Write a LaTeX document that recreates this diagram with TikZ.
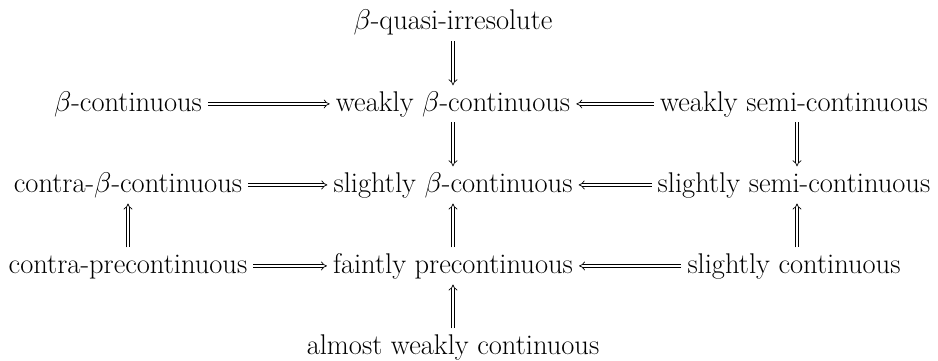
\RequirePackage{fix-cm}
\documentclass[tikz,border=0pt]{standalone}
\usetikzlibrary{arrows.meta}
\tikzset{
  lbl/.style={anchor=base, font=\fontsize{28.5}{32}\selectfont, text height=20pt, text depth=5.8pt, inner xsep=6pt, inner ysep=5.5pt},
  imp/.style={double, line width=0.7pt, double distance=2.4pt, -{Implies[scale=1.3]}}
}
\begin{document}
\begin{tikzpicture}[x=1pt,y=1pt]
\useasboundingbox (0,0) rectangle (938,-361);
\node[lbl] (q)   at (453,-30)  {$\beta$-quasi-irresolute};
\node[lbl] (bc)  at (128,-111) {$\beta$-continuous};
\node[lbl] (wbc) at (453,-111) {weakly $\beta$-continuous};
\node[lbl] (wsc) at (794,-111) {weakly semi-continuous};
\node[lbl] (cbc) at (128,-192) {contra-$\beta$-continuous};
\node[lbl] (sbc) at (453,-192) {slightly $\beta$-continuous};
\node[lbl] (ssc) at (794,-192) {slightly semi-continuous};
\node[lbl] (cpc) at (128,-273) {contra-precontinuous};
\node[lbl] (fpc) at (453,-273) {faintly precontinuous};
\node[lbl] (sc)  at (794,-273) {slightly continuous};
\node[lbl] (awc) at (453,-354) {almost weakly continuous};
\draw[imp] (q.south) -- (wbc.north);
\draw[imp] (bc.east) -- (wbc.west);
\draw[imp] (wsc.west) -- (wbc.east);
\draw[imp] (wbc.south) -- (sbc.north);
\draw[imp] ([xshift=3pt]wsc.south) -- ([xshift=3pt]ssc.north);
\draw[imp] (cbc.east) -- (sbc.west);
\draw[imp] (ssc.west) -- (sbc.east);
\draw[imp] (cpc.north) -- (cbc.south);
\draw[imp] (fpc.north) -- (sbc.south);
\draw[imp] ([xshift=3pt]sc.north) -- ([xshift=3pt]ssc.south);
\draw[imp] (cpc.east) -- (fpc.west);
\draw[imp] (sc.west) -- (fpc.east);
\draw[imp] (awc.north) -- (fpc.south);
\end{tikzpicture}
\end{document}
